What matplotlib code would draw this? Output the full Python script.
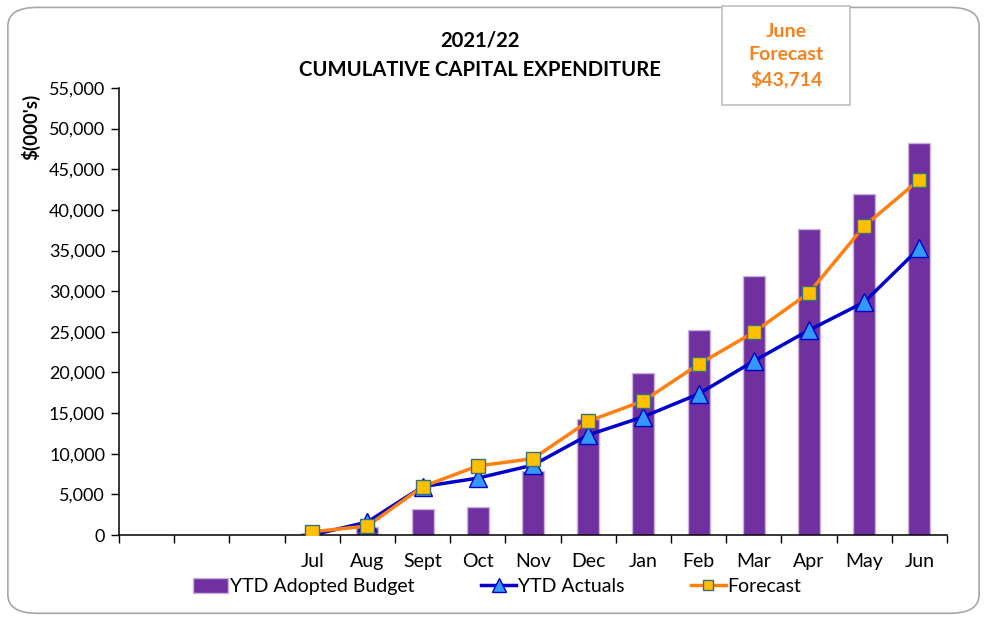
import matplotlib.pyplot as plt
import numpy as np
from matplotlib.patches import FancyBboxPatch, Rectangle
from matplotlib.ticker import FuncFormatter

plt.rcParams['font.family'] = ['Lato', 'DejaVu Sans']

# categories (3 blank slots before July, as in the source workbook)
categories = ['', '', '', 'Jul', 'Aug', 'Sept', 'Oct', 'Nov', 'Dec',
              'Jan', 'Feb', 'Mar', 'Apr', 'May', 'Jun']

# values in $(000's)
ytd_budget = [300, 1000, 3200, 3500, 7900, 14300, 19900, 25200, 31850, 37600, 41900, 48250]
ytd_actuals = [0, 1600, 5950, 7000, 8600, 12300, 14550, 17350, 21400, 25200, 28650, 35300]
forecast = [400, 1100, 5950, 8500, 9400, 14000, 16500, 21000, 24950, 29800, 38000, 43714]

fig = plt.figure(figsize=(9.85, 6.17), dpi=100)

# rounded chart border
frame = FancyBboxPatch((0.008, 0.006), 0.986, 0.982,
                       boxstyle="round,pad=0,rounding_size=0.03",
                       transform=fig.transFigure, facecolor='white',
                       edgecolor='#A6A6A6', linewidth=1.2, zorder=-5)
fig.patches.append(frame)

ax = fig.add_axes([0.1208, 0.1329, 0.8406, 0.7245])
ax.set_facecolor('none')

x = np.arange(3, len(categories))

b = ax.bar(x, ytd_budget, width=0.4, color='#7030A0', edgecolor='#C9B3DD',
           linewidth=1, label='YTD Adopted Budget', zorder=2)
la, = ax.plot(x, ytd_actuals, color='#0000CC', linewidth=2.5, marker='^',
              markersize=13, markerfacecolor='#3399FF', markeredgecolor='#0000CC',
              markeredgewidth=1, label='YTD Actuals', zorder=3)
lf, = ax.plot(x, forecast, color='#FF8010', linewidth=2.5, marker='s',
              markersize=10, markerfacecolor='#FFC000', markeredgecolor='#3A6F7A',
              markeredgewidth=1, label='Forecast', zorder=4)

ax.set_xlim(-0.5, len(categories) - 0.5)
ax.set_ylim(0, 55000)
ax.set_yticks(np.arange(0, 55001, 5000))
ax.yaxis.set_major_formatter(FuncFormatter(lambda v, p: f'{int(v):,}'))

# tick marks between categories, labels at the centres
ax.set_xticks(np.arange(-0.5, len(categories), 1))
ax.set_xticklabels([])
ax.set_xticks(np.arange(len(categories)), minor=True)
ax.set_xticklabels(categories, minor=True)
ax.tick_params(axis='x', which='major', length=6, width=1, direction='out')
ax.tick_params(axis='x', which='minor', length=0, pad=13, labelsize=14)
ax.tick_params(axis='y', length=6, width=1, direction='out', labelsize=13, pad=4)

for s in ['top', 'right']:
    ax.spines[s].set_visible(False)
for s in ['left', 'bottom']:
    ax.spines[s].set_linewidth(1.1)

fig.text(0.031, 0.795, "$(000's)", rotation=90, fontsize=13.5, fontweight='bold',
         ha='center', va='center')

fig.text(0.487, 0.935, '2021/22', fontsize=14.6, fontweight='bold', ha='center', va='center')
fig.text(0.487, 0.887, 'CUMULATIVE CAPITAL EXPENDITURE', fontsize=14.6, fontweight='bold',
         ha='center', va='center')

# June forecast call-out box
box = Rectangle((0.733, 0.830), 0.130, 0.160, transform=fig.transFigure,
                facecolor='white', edgecolor='#BFBFBF', linewidth=1.2, zorder=5)
fig.patches.append(box)
fig.text(0.798, 0.910, 'June\nForecast\n$43,714', color='#F5821F', fontsize=14,
         fontweight='bold', ha='center', va='center', linespacing=1.4, zorder=6)

fig.legend([b, la, lf], ['YTD Adopted Budget', 'YTD Actuals', 'Forecast'],
           loc='center', bbox_to_anchor=(0.505, 0.049), ncol=3, frameon=False,
           fontsize=14, handlelength=1.8, handleheight=0.8, handletextpad=0.1,
           columnspacing=3.4, markerscale=0.75)

fig.savefig('out.png', dpi=100)
